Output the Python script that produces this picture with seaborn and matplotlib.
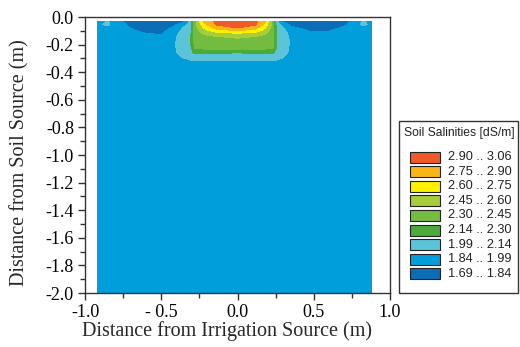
import numpy as np
import matplotlib
matplotlib.use("Agg")
import matplotlib.pyplot as plt
from matplotlib.patches import Rectangle
import seaborn as sns

# ---- data ----
x_pos = [-0.92, -0.85, -0.75, -0.62, -0.50, -0.42, -0.36, -0.31, -0.28, -0.22, -0.14, 0.0,
         0.12, 0.18, 0.23, 0.26, 0.30, 0.35, 0.48, 0.60, 0.72, 0.82, 0.88]
depths = [-0.035, -0.055, -0.075, -0.095, -0.115, -0.14, -0.18, -0.22, -0.26, -0.30, -0.34,
          -0.5, -1.0, -2.0]

# salinity profile (top to bottom) for each x position
salinity_columns = [
    [1.96, 1.97, 1.95, 1.93, 1.92, 1.92, 1.92, 1.92, 1.92, 1.92, 1.92, 1.92, 1.92, 1.92],
    [2.00, 2.01, 1.96, 1.93, 1.92, 1.92, 1.92, 1.92, 1.92, 1.92, 1.92, 1.92, 1.92, 1.92],
    [1.84, 1.85, 1.86, 1.88, 1.90, 1.91, 1.92, 1.92, 1.92, 1.92, 1.92, 1.92, 1.92, 1.92],
    [1.77, 1.78, 1.79, 1.81, 1.84, 1.87, 1.91, 1.92, 1.92, 1.92, 1.92, 1.92, 1.92, 1.92],
    [1.75, 1.76, 1.77, 1.79, 1.82, 1.86, 1.90, 1.92, 1.92, 1.92, 1.92, 1.92, 1.92, 1.92],
    [1.79, 1.81, 1.85, 1.90, 1.93, 1.95, 1.96, 1.96, 1.95, 1.93, 1.92, 1.92, 1.92, 1.92],
    [1.82, 1.90, 1.98, 2.01, 2.03, 2.05, 2.07, 2.07, 2.05, 1.98, 1.93, 1.92, 1.92, 1.92],
    [2.02, 2.05, 2.07, 2.08, 2.09, 2.10, 2.10, 2.10, 2.08, 2.01, 1.94, 1.92, 1.92, 1.92],
    [2.40, 2.40, 2.38, 2.37, 2.36, 2.36, 2.35, 2.33, 2.17, 2.02, 1.94, 1.92, 1.92, 1.92],
    [2.76, 2.70, 2.62, 2.55, 2.48, 2.42, 2.39, 2.36, 2.16, 2.02, 1.94, 1.92, 1.92, 1.92],
    [2.93, 2.91, 2.82, 2.70, 2.56, 2.45, 2.40, 2.37, 2.15, 2.02, 1.94, 1.92, 1.92, 1.92],
    [3.05, 2.97, 2.92, 2.78, 2.62, 2.47, 2.41, 2.37, 2.14, 2.02, 1.94, 1.92, 1.92, 1.92],
    [2.93, 2.91, 2.82, 2.70, 2.56, 2.45, 2.40, 2.37, 2.15, 2.02, 1.94, 1.92, 1.92, 1.92],
    [2.76, 2.70, 2.62, 2.55, 2.48, 2.42, 2.39, 2.36, 2.16, 2.02, 1.94, 1.92, 1.92, 1.92],
    [2.40, 2.40, 2.38, 2.37, 2.36, 2.36, 2.35, 2.33, 2.17, 2.02, 1.94, 1.92, 1.92, 1.92],
    [2.02, 2.05, 2.07, 2.08, 2.09, 2.10, 2.10, 2.10, 2.08, 2.01, 1.94, 1.92, 1.92, 1.92],
    [1.84, 1.92, 1.99, 2.02, 2.04, 2.06, 2.07, 2.07, 2.05, 1.98, 1.93, 1.92, 1.92, 1.92],
    [1.78, 1.81, 1.86, 1.91, 1.94, 1.96, 1.97, 1.96, 1.95, 1.93, 1.92, 1.92, 1.92, 1.92],
    [1.76, 1.77, 1.79, 1.82, 1.85, 1.88, 1.91, 1.92, 1.92, 1.92, 1.92, 1.92, 1.92, 1.92],
    [1.77, 1.78, 1.80, 1.83, 1.86, 1.89, 1.92, 1.92, 1.92, 1.92, 1.92, 1.92, 1.92, 1.92],
    [1.82, 1.84, 1.86, 1.89, 1.91, 1.92, 1.92, 1.92, 1.92, 1.92, 1.92, 1.92, 1.92, 1.92],
    [2.00, 2.01, 1.96, 1.93, 1.92, 1.92, 1.92, 1.92, 1.92, 1.92, 1.92, 1.92, 1.92, 1.92],
    [1.97, 1.97, 1.95, 1.93, 1.92, 1.92, 1.92, 1.92, 1.92, 1.92, 1.92, 1.92, 1.92, 1.92],
]

levels = [1.69, 1.84, 1.99, 2.14, 2.30, 2.45, 2.60, 2.75, 2.90, 3.06]
level_colors = ["#0b6db5", "#009fdc", "#5cc4d8", "#4aab3b", "#74bc40",
                "#a7cd3a", "#fff200", "#fbb417", "#ef5a28"]
legend_labels = ["1.69 .. 1.84", "1.84 .. 1.99", "1.99 .. 2.14", "2.14 .. 2.30",
                 "2.30 .. 2.45", "2.45 .. 2.60", "2.60 .. 2.75", "2.75 .. 2.90",
                 "2.90 .. 3.06"]
legend_title = "Soil Salinities [dS/m]"

xticks = [-1.0, -0.5, 0.0, 0.5, 1.0]
xtick_labels = ["-1.0", "- 0.5", "0.0", "0.5", "1.0"]
yticks = [0.0, -0.2, -0.4, -0.6, -0.8, -1.0, -1.2, -1.4, -1.6, -1.8, -2.0]
ytick_labels = ["0.0", "-0.2", "-0.4", "-0.6", "-0.8", "-1.0", "-1.2", "-1.4",
                "-1.6", "-1.8", "-2.0"]

# ---- styling ----
sns.set_theme(style="ticks")
plt.rcParams["font.family"] = ["Liberation Serif", "DejaVu Serif"]

W, H = 520, 347
fig = plt.figure(figsize=(W / 100, H / 100), dpi=100)
ax = fig.add_axes([85 / W, 1 - 293 / H, 305 / W, 276 / H])
ax.set_facecolor("white")

X, Y = np.meshgrid(np.array(x_pos), np.array(depths))
Z = np.array(salinity_columns).T
ax.contourf(X, Y, Z, levels=levels, colors=level_colors)

ax.set_xlim(-1.0, 1.0)
ax.set_ylim(-2.0, 0.0)
ax.set_xticks(xticks)
ax.set_xticklabels(xtick_labels)
ax.set_xticks([-0.75, -0.25, 0.25, 0.75], minor=True)
ax.set_yticks(yticks)
ax.set_yticklabels(ytick_labels)
ax.set_yticks([-0.1, -0.3, -0.5, -0.7, -0.9, -1.1, -1.3, -1.5, -1.7, -1.9], minor=True)

for s in ax.spines.values():
    s.set_color("#333333")
    s.set_linewidth(1.0)
ax.tick_params(axis="both", which="major", direction="out", length=5, width=1,
               color="#333333", labelsize=13, labelcolor="black", pad=3)
ax.tick_params(axis="both", which="minor", direction="out", length=3.5, width=1,
               color="#333333")

ax.set_xlabel("Distance from Irrigation Source (m)", fontsize=14.5)
ax.set_ylabel("Distance from Soil Source (m)", fontsize=14.5)
ax.xaxis.set_label_coords((227 - 85) / 305, (347 - 321 - 54) / 276)
ax.yaxis.set_label_coords((29 - 85) / 305, (347 - 163 - 54) / 276)


# ---- legend box (figure pixel layout) ----
def fx(px):
    return px / W


def fy(py):
    return 1 - py / H


fig.add_artist(Rectangle((fx(398.5), fy(292.5)), fx(518) - fx(398.5), fy(120.5) - fy(292.5),
                         transform=fig.transFigure, facecolor="white",
                         edgecolor="#333333", linewidth=1.0))
fig.text(fx(404), fy(136), legend_title, fontsize=8.7, family="Liberation Sans",
         va="baseline", ha="left", color="#222222")
row_top, row_pitch = 157.0, 14.6
for i, (c, lab) in enumerate(zip(level_colors[::-1], legend_labels[::-1])):
    yc = row_top + i * row_pitch
    fig.add_artist(Rectangle((fx(410), fy(yc + 5.5)), fx(440) - fx(410), fy(yc - 5.5) - fy(yc + 5.5),
                             transform=fig.transFigure, facecolor=c,
                             edgecolor="#222222", linewidth=0.8))
    fig.text(fx(448), fy(yc), lab, fontsize=9.2, family="Liberation Sans",
             va="center", ha="left", color="#222222")

fig.savefig("out.png", dpi=100)
